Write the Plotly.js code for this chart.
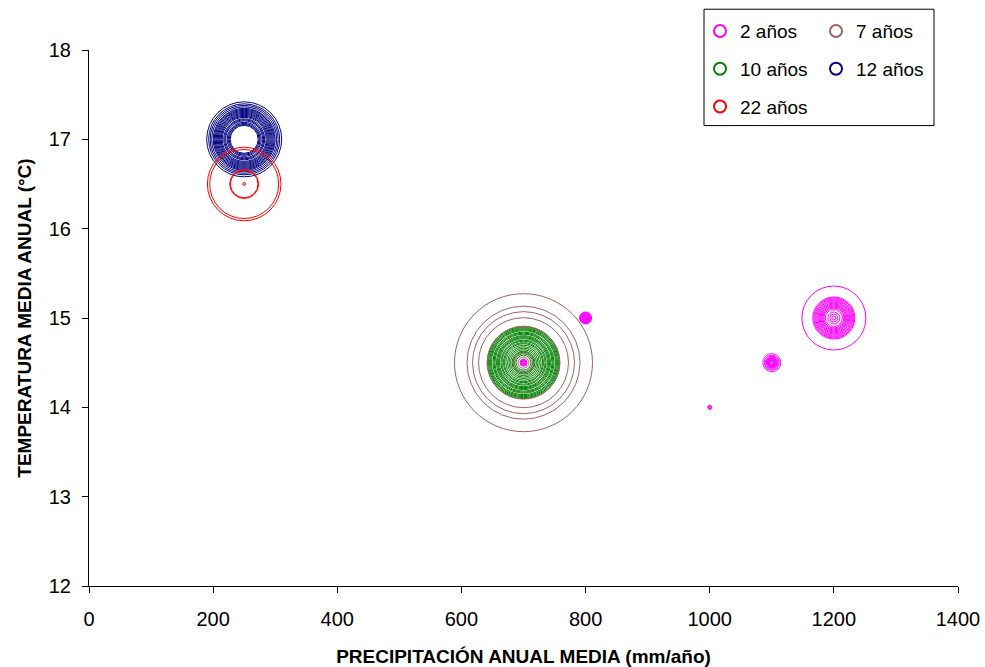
<!DOCTYPE html>
<html><head><meta charset="utf-8">
<script src="https://cdn.plot.ly/plotly-3.0.1.min.js"></script>
<style>html,body{margin:0;padding:0;background:#fff;}#chart{width:985px;height:667px;}</style>
</head><body><div id="chart"></div>
<script>
// 2 años
const x2 = [700,700,700,700,700,700,
  800,800,800,800,800,800,800,800,800,800,800,
  1000,1000,1000,
  1100,1100,1100,1100,1100,1100,1100,1100,1100,1100,1100,1100,
  1200,1200,1200,1200,1200,1200,1200,1200,1200,1200,1200,1200,1200,1200,1200,1200,1200];
const y2 = [14.5,14.5,14.5,14.5,14.5,14.5,
  15,15,15,15,15,15,15,15,15,15,15,
  14,14,14,
  14.5,14.5,14.5,14.5,14.5,14.5,14.5,14.5,14.5,14.5,14.5,14.5,
  15,15,15,15,15,15,15,15,15,15,15,15,15,15,15,15,15];
const s2 = [12,9,6,4,2,1,
  36,30,25,20,16,12,9,6,4,2,1,
  4,2,1,
  81,56,42,30,25,20,16,12,9,6,4,2,
  1024,441,400,361,324,289,256,225,196,169,144,121,100,72,36,16,4];
// 7 años
const x7 = [700,700,700,700,700,700,700];
const y7 = [14.5,14.5,14.5,14.5,14.5,14.5,14.5];
const s7 = [4761,3192,2601,2025,1332,100,30];
// 10 años
const x10 = [700,700,700,700,700,700,700,700,700,700,700,700,700,700,700,700,700,700,700,700,700,700,700,700];
const y10 = [14.5,14.5,14.5,14.5,14.5,14.5,14.5,14.5,14.5,14.5,14.5,14.5,14.5,14.5,14.5,14.5,14.5,14.5,14.5,14.5,14.5,14.5,14.5,14.5];
const s10 = [1296,1225,1156,1089,1024,930,870,812,729,676,625,576,506,462,400,361,306,256,210,169,132,110,81,56];
// 12 años
const x12 = [250,250,250,250,250,250,250,250,250,250,250,250,250,250,250,250,250,250,250,250,250];
const y12 = [17,17,17,17,17,17,17,17,17,17,17,17,17,17,17,17,17,17,17,17,17];
const s12 = [1406,1260,1156,1056,961,900,841,784,729,676,625,576,529,484,420,380,342,289,256,225,196];
// 22 años
const x22 = [250,250,250,250,250];
const y22 = [16.5,16.5,16.5,16.5,16.5];
const s22 = [1354,1190,210,190,2];

const xTicks = [0,200,400,600,800,1000,1200,1400];
const yTicks = [12,13,14,15,16,17,18];

function bub(name, x, y, s, color, legend, rank) {
  return {
    type: 'scatter', mode: 'markers', name: name, x: x, y: y,
    legend: legend, legendrank: rank, legendgroup: name,
    marker: {symbol: 'circle', size: s, sizemode: 'area', sizeref: 0.5, opacity: 1,
      color: 'rgba(0,0,0,0)', line: {color: color, width: 1}},
    hoverinfo: 'x+y+name'
  };
}

const data = [
  bub('10 años', x10, y10, s10, '#008000', 'legend', 2),
  bub('7 años', x7, y7, s7, '#A06262', 'legend2', 1),
  bub('12 años', x12, y12, s12, '#000080', 'legend2', 2),
  bub('22 años', x22, y22, s22, '#FF0000', 'legend', 3),
  bub('2 años', x2, y2, s2, '#FF00FF', 'legend', 1)
];

const F = 'Arial, "Liberation Sans", sans-serif';
const legendCommon = {
  orientation: 'v', xanchor: 'left', yanchor: 'top', traceorder: 'grouped',
  tracegroupgap: 10, bgcolor: 'rgba(0,0,0,0)', borderwidth: 0,
  font: {family: F, size: 19, color: '#000'}, itemsizing: 'constant'
};

const layout = {
  width: 985, height: 667,
  margin: {l: 89, r: 27, t: 47, b: 81, pad: 0},
  paper_bgcolor: '#fff', plot_bgcolor: '#fff',
  font: {family: F, color: '#000'},
  showlegend: true,
  xaxis: {
    range: [0, 1400], tickvals: xTicks, ticktext: xTicks.map(String),
    ticks: 'outside', ticklen: 6, tickcolor: '#000', tickwidth: 1,
    showline: true, linecolor: '#000', linewidth: 1, showgrid: false, zeroline: false,
    tickfont: {family: F, size: 20, color: '#000'}, ticklabelstandoff: 9,
    title: {text: '<b>PRECIPITACIÓN ANUAL MEDIA (mm/año)</b>', font: {family: F, size: 19, color: '#000'}, standoff: 20},
    automargin: false, fixedrange: true
  },
  yaxis: {
    range: [12, 18], tickvals: yTicks, ticktext: yTicks.map(String),
    ticks: 'outside', ticklen: 6, tickcolor: '#000', tickwidth: 1,
    showline: true, linecolor: '#000', linewidth: 1, showgrid: false, zeroline: false,
    tickfont: {family: F, size: 20, color: '#000'}, ticklabelstandoff: 7,
    title: {text: '<b>TEMPERATURA MEDIA ANUAL (°C)</b>', font: {family: F, size: 19, color: '#000'}, standoff: 12},
    automargin: false, fixedrange: true
  },
  legend: Object.assign({x: (700 - 89) / 869, y: (586 - 9) / 539}, legendCommon),
  legend2: Object.assign({x: (816 - 89) / 869, y: (586 - 9) / 539}, legendCommon),
  shapes: [{
    type: 'rect', xref: 'paper', yref: 'paper',
    x0: (704 - 89) / 869, x1: (934 - 89) / 869,
    y0: (586 - 123) / 539, y1: (586 - 6) / 539,
    line: {color: '#000', width: 1}, fillcolor: 'rgba(0,0,0,0)', layer: 'above'
  }]
};

Plotly.newPlot('chart', data, layout, {displayModeBar: false, staticPlot: true});
</script></body></html>
